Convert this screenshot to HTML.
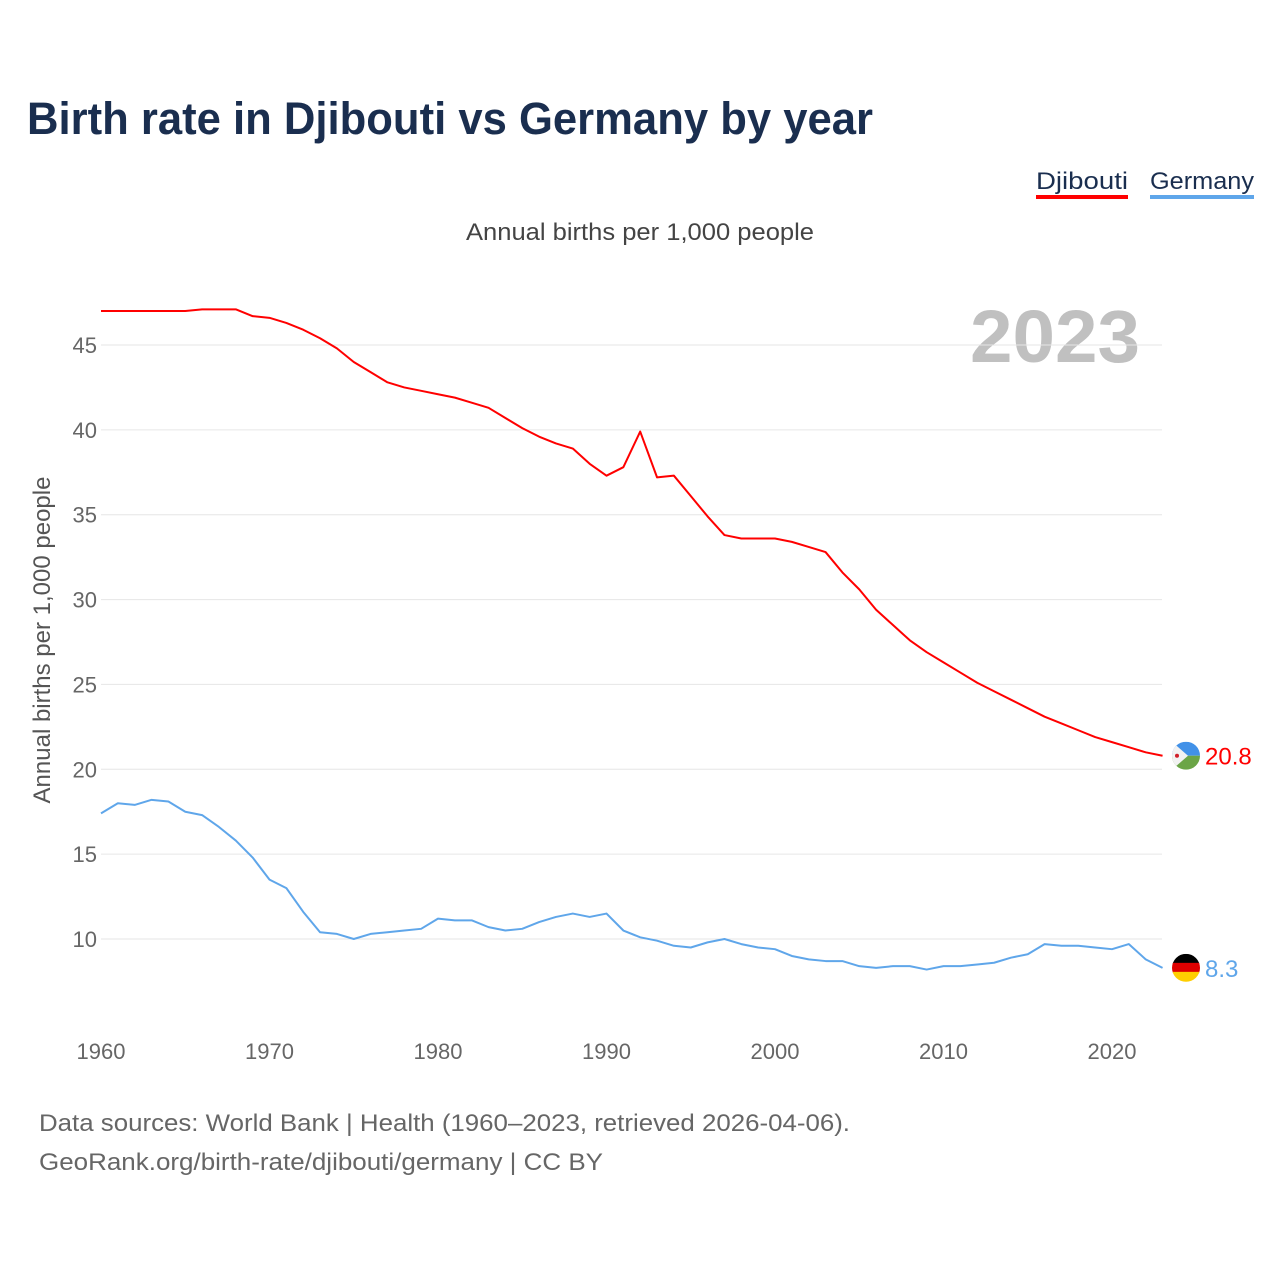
<!DOCTYPE html>
<html><head><meta charset="utf-8">
<style>
body{margin:0;background:#fff;font-family:"Liberation Sans",sans-serif;}
svg text{font-family:"Liberation Sans",sans-serif;}
</style></head>
<body>
<svg id="chart" width="1280" height="1280" viewBox="0 0 1280 1280" xmlns="http://www.w3.org/2000/svg">
<text x="27" y="134" font-size="45" font-weight="bold" fill="#1a2e4f" textLength="846" lengthAdjust="spacingAndGlyphs">Birth rate in Djibouti vs Germany by year</text>
<g>
<text x="1036" y="189" font-size="24" fill="#1a2e4f" textLength="92" lengthAdjust="spacingAndGlyphs">Djibouti</text>
<rect x="1036" y="195" width="92" height="4" fill="#ff0000"/>
<text x="1150" y="189" font-size="24" fill="#1a2e4f" textLength="104" lengthAdjust="spacingAndGlyphs">Germany</text>
<rect x="1150" y="195" width="104" height="4" fill="#5fa6ea"/>
</g>
<text x="466" y="240" font-size="24" fill="#444" textLength="348" lengthAdjust="spacingAndGlyphs">Annual births per 1,000 people</text>
<text x="970" y="362" font-size="74" font-weight="bold" fill="#c0c0c0" textLength="170" lengthAdjust="spacingAndGlyphs">2023</text>
<text transform="translate(50,640) rotate(-90)" font-size="24" fill="#555" text-anchor="middle">Annual births per 1,000 people</text>
<g id="grid"></g><g id="yt"></g><g id="xt"></g><g id="series"></g>
<text x="39" y="1131" font-size="24" fill="#666" textLength="811" lengthAdjust="spacingAndGlyphs">Data sources: World Bank | Health (1960–2023, retrieved 2026-04-06).</text>
<text x="39" y="1170" font-size="24" fill="#666" textLength="564" lengthAdjust="spacingAndGlyphs">GeoRank.org/birth-rate/djibouti/germany | CC BY</text>
</svg>
<script>
const years=[];for(let y=1960;y<=2023;y++)years.push(y);
const djibouti=[47.0,47.0,47.0,47.0,47.0,47.0,47.1,47.1,47.1,46.7,46.6,46.3,45.9,45.4,44.8,44.0,43.4,42.8,42.5,42.3,42.1,41.9,41.6,41.3,40.7,40.1,39.6,39.2,38.9,38.0,37.3,37.8,39.9,37.2,37.3,36.1,34.9,33.8,33.6,33.6,33.6,33.4,33.1,32.8,31.6,30.6,29.4,28.5,27.6,26.9,26.3,25.7,25.1,24.6,24.1,23.6,23.1,22.7,22.3,21.9,21.6,21.3,21.0,20.8];
const germany=[17.4,18.0,17.9,18.2,18.1,17.5,17.3,16.6,15.8,14.8,13.5,13.0,11.6,10.4,10.3,10.0,10.3,10.4,10.5,10.6,11.2,11.1,11.1,10.7,10.5,10.6,11.0,11.3,11.5,11.3,11.5,10.5,10.1,9.9,9.6,9.5,9.8,10.0,9.7,9.5,9.4,9.0,8.8,8.7,8.7,8.4,8.3,8.4,8.4,8.2,8.4,8.4,8.5,8.6,8.9,9.1,9.7,9.6,9.6,9.5,9.4,9.7,8.8,8.3];
const yTicks=[10,15,20,25,30,35,40,45];
const xTicks=[1960,1970,1980,1990,2000,2010,2020];
const X=y=>101+(y-1960)*1011/60;
const Y=v=>939-(v-10)*594/35;
const NS='http://www.w3.org/2000/svg';
function mk(p,t,a){const e=document.createElementNS(NS,t);for(const k in a)e.setAttribute(k,a[k]);document.getElementById(p).appendChild(e);return e;}
yTicks.forEach(v=>{
 const l=mk('grid','line',{x1:101,x2:1162,y1:Y(v),y2:Y(v),stroke:'#e6e6e6','stroke-width':1});
 
 
 const t=mk('yt','text',{x:97,y:Y(v)+8,'font-size':22,fill:'#666','text-anchor':'end'});
 
 
 t.textContent=v;
});
xTicks.forEach(v=>{
 const t=mk('xt','text',{x:X(v),y:1059,'font-size':22,fill:'#666','text-anchor':'middle'});
 
 
 t.textContent=v;
});
function line(data,color,name){
 const p=mk('series','polyline',{points:data.map((v,i)=>X(years[i])+','+Y(v)).join(' '),fill:'none',stroke:color,'stroke-width':2,'stroke-linejoin':'round'});
 
 
}
line(djibouti,'#ff0000','djibouti-line');
line(germany,'#5fa6ea','germany-line');
const last=years.length-1,cx=1186;
let dy=Y(djibouti[last]);
let g=mk('series','g',{});


g.innerHTML=`<clipPath id="cd"><circle cx="${cx}" cy="${dy}" r="14"/></clipPath><g clip-path="url(#cd)"><rect x="${cx-14}" y="${dy-14}" width="28" height="14" fill="#4191e8"/><rect x="${cx-14}" y="${dy}" width="28" height="14" fill="#6ba547"/><polygon points="${cx-14},${dy-14} ${cx+2},${dy} ${cx-14},${dy+14}" fill="#f2f2f2"/><circle cx="${cx-9}" cy="${dy}" r="2" fill="#d0202a"/></g>`;
let t=mk('series','text',{x:1205,y:dy+9,'font-size':24,fill:'#ff0000'});


t.textContent=djibouti[last].toFixed(1);
let gy=Y(germany[last]);
g=mk('series','g',{});


g.innerHTML=`<clipPath id="cg"><circle cx="${cx}" cy="${gy}" r="14"/></clipPath><g clip-path="url(#cg)"><rect x="${cx-14}" y="${gy-14}" width="28" height="10" fill="#000"/><rect x="${cx-14}" y="${gy-5}" width="28" height="10" fill="#dd0000"/><rect x="${cx-14}" y="${gy+4}" width="28" height="10" fill="#ffce00"/></g>`;
t=mk('series','text',{x:1205,y:gy+9,'font-size':24,fill:'#5fa6ea'});


t.textContent=germany[last].toFixed(1);
</script>
</body></html>
